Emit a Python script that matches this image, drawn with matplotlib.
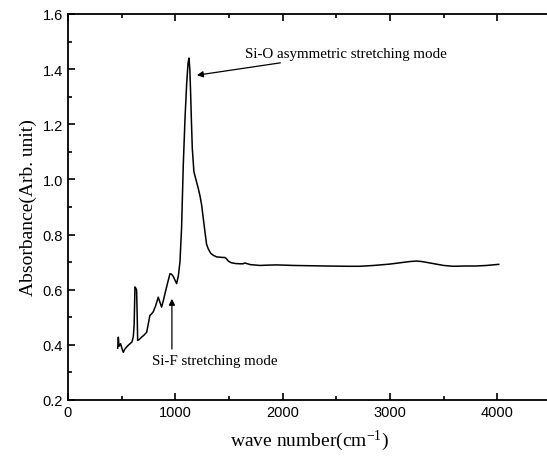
import matplotlib
matplotlib.use("Agg")
import matplotlib.pyplot as plt
from matplotlib.ticker import MultipleLocator

plt.rcParams["mathtext.fontset"] = "custom"
plt.rcParams["mathtext.rm"] = "Liberation Serif"
plt.rcParams["mathtext.it"] = "Liberation Serif"

# Data
wavenumber = [463, 469, 475, 490, 500, 515, 530, 546, 560, 577, 595, 608, 616, 624, 632, 639, 645,
              649, 665, 686, 710, 733, 750, 763, 778, 794, 815, 841, 856, 872, 888, 903, 925, 950,
              965, 981, 1000, 1012, 1028, 1043, 1058, 1074, 1090, 1105, 1118, 1127, 1135, 1142,
              1150, 1158, 1173, 1195, 1214, 1230, 1245, 1260, 1276, 1291, 1307, 1330, 1353, 1384,
              1415, 1440, 1460, 1475, 1493, 1520, 1560, 1601, 1632, 1645, 1700, 1788, 1850, 1943,
              2100, 2253, 2400, 2600, 2719, 2850, 3000, 3100, 3180, 3247, 3300, 3400, 3500,
              3588, 3700, 3800, 3900, 4013]
absorbance = [0.388, 0.428, 0.395, 0.404, 0.39, 0.373, 0.385, 0.392, 0.398, 0.404, 0.41, 0.428,
              0.47, 0.61, 0.605, 0.60, 0.50, 0.416, 0.42, 0.428, 0.436, 0.446, 0.48, 0.507, 0.512,
              0.52, 0.54, 0.573, 0.555, 0.537, 0.56, 0.585, 0.62, 0.658, 0.656, 0.648, 0.632, 0.622,
              0.65, 0.70, 0.822, 1.052, 1.22, 1.343, 1.42, 1.44, 1.40, 1.319, 1.21, 1.113, 1.028,
              0.995, 0.967, 0.94, 0.907, 0.86, 0.81, 0.765, 0.748, 0.732, 0.725, 0.719, 0.718,
              0.717, 0.717, 0.713, 0.704, 0.698, 0.695, 0.694, 0.694, 0.697, 0.691, 0.688, 0.689,
              0.69, 0.688, 0.687, 0.686, 0.685, 0.685, 0.688, 0.693, 0.698, 0.702, 0.704, 0.702,
              0.695, 0.688, 0.685, 0.686, 0.686, 0.688, 0.692]

xlim = (0, 4500)
ylim = (0.2, 1.6)
xticks = [0, 1000, 2000, 3000, 4000]
yticks = [0.2, 0.4, 0.6, 0.8, 1.0, 1.2, 1.4, 1.6]
ytick_labels = ["0.2", "0.4", "0.6", "0.8", "1.0", "1.2", "1.4", "1.6"]

fig = plt.figure(figsize=(5.47, 4.60), dpi=100)
ax = fig.add_axes([68/547, 59/460, 483/547, 386/460])

ax.plot(wavenumber, absorbance, color="black", lw=1.1)

ax.set_xlim(*xlim)
ax.set_ylim(*ylim)
ax.set_xticks(xticks)
ax.set_xticklabels([str(t) for t in xticks])
ax.set_yticks(yticks)
ax.set_yticklabels(ytick_labels)
ax.xaxis.set_minor_locator(MultipleLocator(500))
ax.yaxis.set_minor_locator(MultipleLocator(0.1))
ax.tick_params(which="both", direction="in", top=True, right=False,
               labelsize=10.5, width=1.2)
ax.tick_params(which="major", length=5)
ax.tick_params(which="minor", length=3)
for lab in ax.get_xticklabels() + ax.get_yticklabels():
    lab.set_family("Liberation Sans")
for s in ax.spines.values():
    s.set_linewidth(1.3)
ax.spines["right"].set_visible(False)

ax.set_xlabel("wave number(cm$^{-1}$)", family="Liberation Serif", fontsize=14, labelpad=6)
ax.set_ylabel("Absorbance(Arb. unit)", family="Liberation Serif", fontsize=14, labelpad=4)

ax.annotate("Si-O asymmetric stretching mode", xy=(1201, 1.378), xytext=(1648, 1.458),
            family="Liberation Serif", fontsize=10.8, va="center", ha="left",
            arrowprops=dict(arrowstyle="-|>", color="black", lw=0.9, shrinkA=2, shrinkB=0,
                            mutation_scale=9))
ax.annotate("", xy=(968, 0.567), xytext=(968, 0.385),
            arrowprops=dict(arrowstyle="-|>", color="black", lw=0.9, shrinkA=0, shrinkB=0,
                            mutation_scale=9))
ax.text(1369, 0.342, "Si-F stretching mode", family="Liberation Serif", fontsize=10.8,
        ha="center", va="center")

fig.savefig("out.png", dpi=100)
